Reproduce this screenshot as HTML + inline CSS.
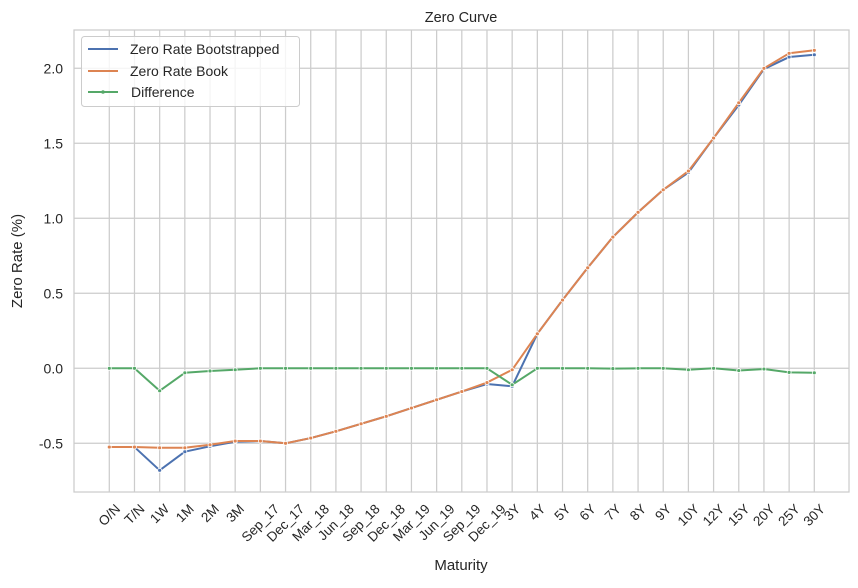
<!DOCTYPE html>
<html><head><meta charset="utf-8"><style>
body{margin:0;background:#fff;font-family:"Liberation Sans",Arial,sans-serif;}
svg text{font-family:"Liberation Sans",Arial,sans-serif;fill:#262626;}
</style></head><body>
<svg id="chart" width="858" height="583" xmlns="http://www.w3.org/2000/svg">
<rect width="858" height="583" fill="#fff"/>
<g id="grid"></g>
<g id="series"></g>
<rect x="74" y="30" width="775" height="462" fill="none" stroke="#cccccc" stroke-width="1.25"/>
<text x="461" y="22" font-size="14.5" text-anchor="middle">Zero Curve</text>
<text x="461" y="570" font-size="15" text-anchor="middle">Maturity</text>
<text transform="translate(22,261) rotate(-90)" font-size="15" text-anchor="middle">Zero Rate (%)</text>
<g id="xticks"></g><g id="yticks"></g>
<g>
<rect x="81.5" y="36.5" width="218" height="70" rx="3" fill="#fff" fill-opacity="0.8" stroke="#cccccc"/>
<g><line x1="88" y1="49" x2="118" y2="49" stroke="#4c72b0" stroke-width="2"/><text x="130" y="54" font-size="14">Zero Rate Bootstrapped</text></g>
<g><line x1="88" y1="71" x2="118" y2="71" stroke="#dd8452" stroke-width="2"/><text x="130" y="76" font-size="14">Zero Rate Book</text></g>
<g><line x1="88" y1="92" x2="118" y2="92" stroke="#55a868" stroke-width="2"/><circle cx="103" cy="92" r="1.8" fill="#55a868"/><text x="131" y="97" font-size="14">Difference</text></g>
</g>
</svg>
<script>
const categories=["O/N","T/N","1W","1M","2M","3M","Sep_17","Dec_17","Mar_18","Jun_18","Sep_18","Dec_18","Mar_19","Jun_19","Sep_19","Dec_19","3Y","4Y","5Y","6Y","7Y","8Y","9Y","10Y","12Y","15Y","20Y","25Y","30Y"];
const bookValues=[-0.525,-0.525,-0.53,-0.53,-0.51,-0.485,-0.485,-0.50,-0.465,-0.42,-0.37,-0.32,-0.265,-0.21,-0.155,-0.095,-0.01,0.23,0.455,0.67,0.875,1.04,1.19,1.315,1.535,1.77,2.0,2.10,2.12];
const bootValues=[-0.525,-0.525,-0.68,-0.556,-0.52,-0.49,-0.485,-0.50,-0.465,-0.42,-0.37,-0.32,-0.265,-0.21,-0.155,-0.105,-0.12,0.23,0.455,0.67,0.875,1.04,1.19,1.305,1.535,1.755,1.995,2.075,2.09];
const diffValues=[0,0,-0.15,-0.03,-0.018,-0.01,0,0,0,0,0,0,0,0,0,0,-0.11,0,0,0,-0.002,0,0,-0.01,0,-0.015,-0.005,-0.027,-0.03];
const yTicks=[-0.5,0.0,0.5,1.0,1.5,2.0];
const NS="http://www.w3.org/2000/svg";
const x=i=>109.3+i*(814.3-109.3)/(categories.length-1);
const y=v=>368.3-v*150;
function mk(t,a,p){const e=document.createElementNS(NS,t);for(const k in a)e.setAttribute(k,a[k]);p.appendChild(e);return e;}
const grid=document.getElementById('grid'),xt=document.getElementById('xticks'),yt=document.getElementById('yticks'),ser=document.getElementById('series');
const FS=13.5;
categories.forEach((c,i)=>{
 const l=mk('line',{x1:x(i),x2:x(i),y1:30,y2:492,stroke:'#cccccc','stroke-width':1.25},grid);
 
 
 const t=mk('text',{x:0,y:0,'font-size':FS,'text-anchor':'middle','dominant-baseline':'central'},xt);
 t.textContent=c;
 
 
 const w=t.getComputedTextLength();
 const bh=(w+FS*0.75)/Math.SQRT2;
 t.setAttribute('transform',`translate(${x(i)},${503+bh/2}) rotate(-45)`);
});
yTicks.forEach(v=>{
 const l=mk('line',{x1:74,x2:849,y1:y(v),y2:y(v),stroke:'#cccccc','stroke-width':1.25},grid);
 
 
 const t=mk('text',{x:63,y:y(v)+5,'font-size':14,'text-anchor':'end'},yt);
 t.textContent=v.toFixed(1);
 
 
});
function draw(vals,color,name){
 const p=mk('polyline',{points:vals.map((v,i)=>x(i)+','+y(v)).join(' '),fill:'none',stroke:color,'stroke-width':2,'stroke-linejoin':'round'},ser);
 
 
 vals.forEach((v,i)=>{
  const c=mk('circle',{cx:x(i),cy:y(v),r:2,fill:color,stroke:'#fff','stroke-width':0.8},ser);
  
  
 });
}
draw(bootValues,'#4c72b0','bootstrapped');
draw(bookValues,'#dd8452','book');
draw(diffValues,'#55a868','difference');
</script>
</body></html>
